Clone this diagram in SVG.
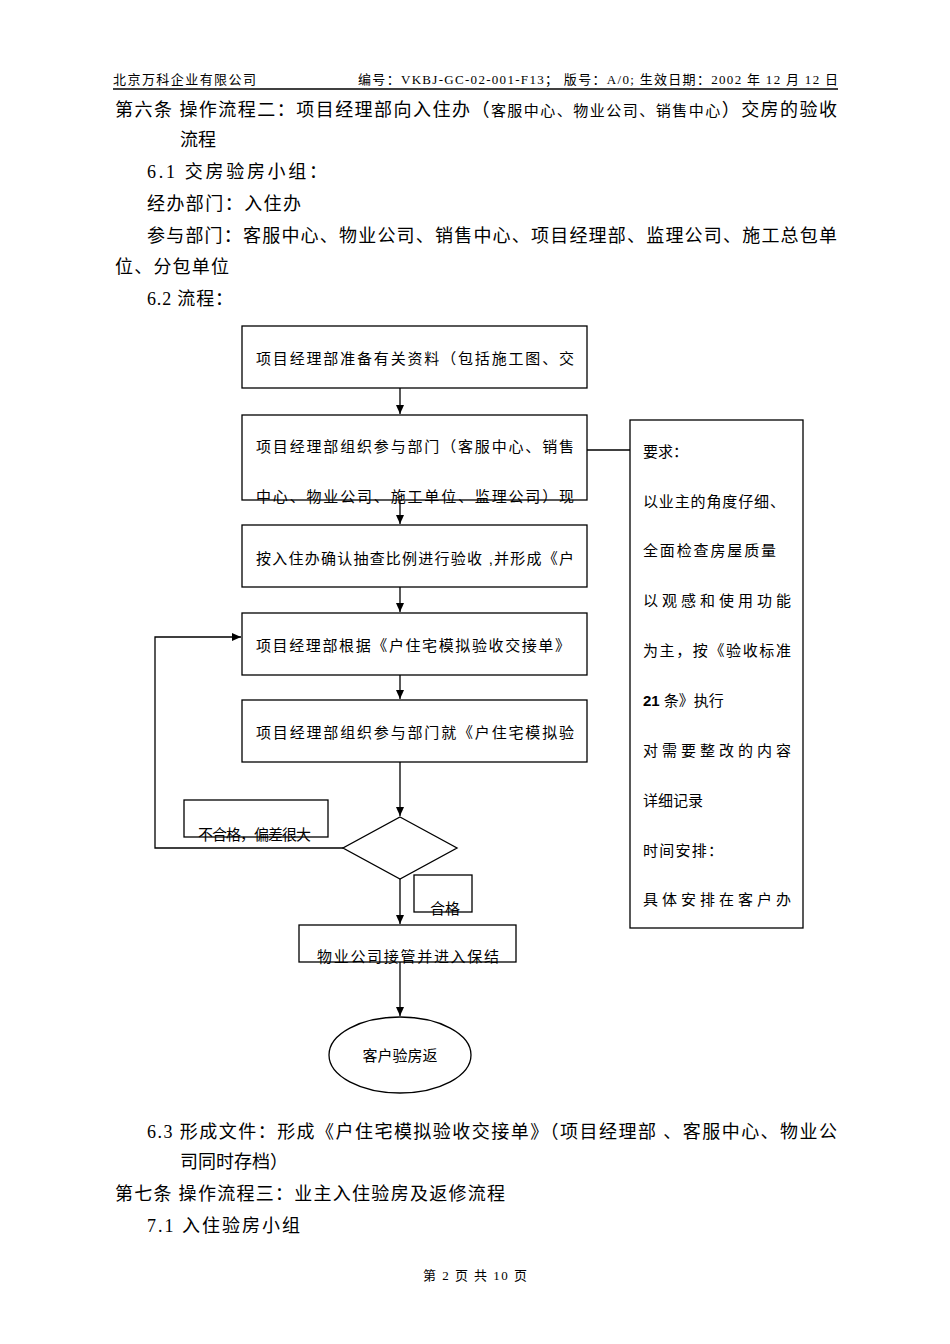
<svg xmlns="http://www.w3.org/2000/svg" width="950" height="1344" viewBox="0 0 950 1344">
<defs>
<marker id="ar" markerWidth="10" markerHeight="10" refX="9" refY="5" orient="auto" markerUnits="userSpaceOnUse"><path d="M0,1 L9,5 L0,9 Z" fill="#000"/></marker>
<style>
.s{font-family:"Liberation Serif","Noto Sans CJK SC",serif;fill:#000}
.b{font-size:18px}
.h{font-size:13px}
.f{font-family:"Liberation Sans","Noto Sans CJK SC",sans-serif;font-size:15px;fill:#000}
.bx{fill:#fff;stroke:#000;stroke-width:1.3}
.ln{fill:none;stroke:#000;stroke-width:1.3}
</style>
</defs>
<rect width="950" height="1344" fill="#fff"/>
<text class="s h" x="113" y="84" textLength="143" lengthAdjust="spacing">北京万科企业有限公司</text>
<text class="s h" x="358" y="84" textLength="480" lengthAdjust="spacing">编号：VKBJ-GC-02-001-F13；    版号：A/0;   生效日期：2002 年 12 月 12 日</text>
<line x1="113" y1="89" x2="838" y2="89" stroke="#000" stroke-width="1.5"/>
<text class="s b" x="115" y="116" textLength="722" lengthAdjust="spacing">第六条 操作流程二：项目经理部向入住办（<tspan font-size="15">客服中心、物业公司、销售中心</tspan>）交房的验收</text>
<text class="s b" x="180" y="146">流程</text>
<text class="s b" x="147" y="178" textLength="180" lengthAdjust="spacing">6.1 交房验房小组：</text>
<text class="s b" x="147" y="210" textLength="154" lengthAdjust="spacing">经办部门：入住办</text>
<text class="s b" x="147" y="242" textLength="690" lengthAdjust="spacing">参与部门：客服中心、物业公司、销售中心、项目经理部、监理公司、施工总包单</text>
<text class="s b" x="115" y="273" textLength="114" lengthAdjust="spacing">位、分包单位</text>
<text class="s b" x="147" y="305" textLength="86" lengthAdjust="spacing">6.2 流程：</text>
<g id="connectors">
<line class="ln" x1="400" y1="388" x2="400" y2="414" marker-end="url(#ar)"/>
<line class="ln" x1="400" y1="500" x2="400" y2="524" marker-end="url(#ar)"/>
<line class="ln" x1="400" y1="587" x2="400" y2="612" marker-end="url(#ar)"/>
<line class="ln" x1="400" y1="675" x2="400" y2="699" marker-end="url(#ar)"/>
<line class="ln" x1="400" y1="762" x2="400" y2="816" marker-end="url(#ar)"/>
<line class="ln" x1="400" y1="879" x2="400" y2="924" marker-end="url(#ar)"/>
<line class="ln" x1="400" y1="962" x2="400" y2="1016" marker-end="url(#ar)"/>
<polyline class="ln" points="343,848 155,848 155,637 241,637" marker-end="url(#ar)"/>
<line class="ln" x1="587" y1="450" x2="630" y2="450"/>
</g>
<g id="n1"><rect class="bx" x="242" y="326" width="345" height="62"/><text class="f" x="256" y="364" textLength="318" lengthAdjust="spacing">项目经理部准备有关资料（包括施工图、交</text></g>
<g id="n2"><rect class="bx" x="242" y="415" width="345" height="85"/><text class="f" x="256" y="452" textLength="318" lengthAdjust="spacing">项目经理部组织参与部门（客服中心、销售</text><text class="f" x="256" y="502" textLength="318" lengthAdjust="spacing">中心、物业公司、施工单位、监理公司）现</text></g>
<g id="n3"><rect class="bx" x="242" y="525" width="345" height="62"/><text class="f" x="256" y="564" textLength="318" lengthAdjust="spacing">按入住办确认抽查比例进行验收 ,并形成《户</text></g>
<g id="n4"><rect class="bx" x="242" y="613" width="345" height="62"/><text class="f" x="256" y="651" textLength="314" lengthAdjust="spacing">项目经理部根据《户住宅模拟验收交接单》</text></g>
<g id="n5"><rect class="bx" x="242" y="700" width="345" height="62"/><text class="f" x="256" y="738" textLength="318" lengthAdjust="spacing">项目经理部组织参与部门就《户住宅模拟验</text></g>
<g id="d"><polygon class="bx" points="400,817 457,848 400,879 343,848"/></g>
<g id="l1"><rect class="bx" x="184" y="800" width="144" height="37"/><text class="f" x="198" y="840" font-size="14" textLength="113" lengthAdjust="spacing">不合格，偏差很大</text></g>
<g id="l2"><rect class="bx" x="414" y="875" width="58" height="37"/><text class="f" x="430" y="914" font-size="14">合格</text></g>
<g id="n6"><rect class="bx" x="299" y="925" width="217" height="37"/><text class="f" x="317" y="962" textLength="182" lengthAdjust="spacing">物业公司接管并进入保结</text></g>
<g id="n7"><ellipse class="bx" cx="400" cy="1055" rx="71" ry="38"/><text class="f" x="400" y="1061" text-anchor="middle">客户验房返</text></g>
<g id="req"><rect class="bx" x="630" y="420" width="173" height="508"/>
<text class="f" x="643" y="457">要求：</text>
<text class="f" x="643" y="507" textLength="142" lengthAdjust="spacing">以业主的角度仔细、</text>
<text class="f" x="643" y="556" textLength="133" lengthAdjust="spacing">全面检查房屋质量</text>
<text class="f" x="643" y="606" textLength="148" lengthAdjust="spacing">以观感和使用功能</text>
<text class="f" x="643" y="656" textLength="148" lengthAdjust="spacing">为主，按《验收标准</text>
<text class="f" x="643" y="706"><tspan font-weight="bold">21</tspan> 条》执行</text>
<text class="f" x="643" y="756" textLength="148" lengthAdjust="spacing">对需要整改的内容</text>
<text class="f" x="643" y="806">详细记录</text>
<text class="f" x="643" y="856" textLength="80" lengthAdjust="spacing">时间安排：</text>
<text class="f" x="643" y="905" textLength="148" lengthAdjust="spacing">具体安排在客户办</text>
</g>
<text class="s b" x="147" y="1138" textLength="690" lengthAdjust="spacing">6.3 形成文件：形成《户住宅模拟验收交接单》（项目经理部 、客服中心、物业公</text>
<text class="s b" x="180" y="1168">司同时存档）</text>
<text class="s b" x="115" y="1200" textLength="390" lengthAdjust="spacing">第七条 操作流程三：业主入住验房及返修流程</text>
<text class="s b" x="147" y="1232" textLength="153" lengthAdjust="spacing">7.1 入住验房小组</text>
<text class="s h" x="475" y="1280" text-anchor="middle" textLength="104" lengthAdjust="spacing">第 2 页 共 10 页</text>
</svg>
